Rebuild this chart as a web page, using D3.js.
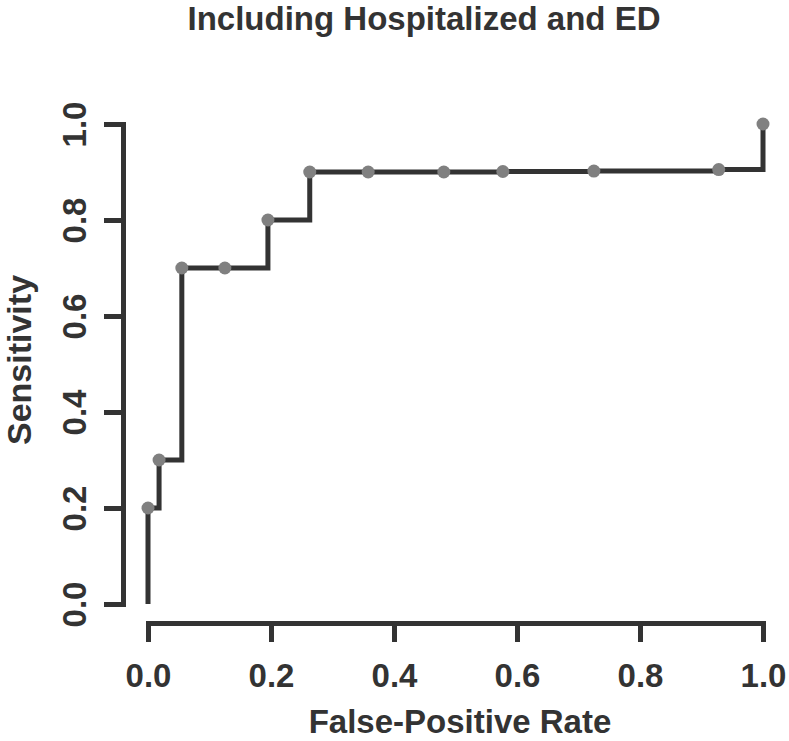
<!DOCTYPE html>
<html>
<head>
<meta charset="utf-8">
<script src="https://cdn.jsdelivr.net/npm/d3@7"></script>
<style>
  html, body { margin: 0; padding: 0; background: #fff; }
  text { font-family: "Liberation Sans", Arial, Helvetica, sans-serif; font-weight: bold; fill: #333; }
</style>
</head>
<body>
<svg id="chart" width="789" height="741"></svg>
<script>
const title = "Including Hospitalized and ED";
const xLabel = "False-Positive Rate";
const yLabel = "Sensitivity";
const fpr = [0.0, 0.018, 0.055, 0.125, 0.195, 0.263, 0.358, 0.481, 0.577, 0.725, 0.928, 1.0];
const sensitivity = [0.2, 0.3, 0.7, 0.7, 0.8, 0.9, 0.9, 0.9, 0.901, 0.902, 0.905, 1.0];
const xTicks = [0, 0.2, 0.4, 0.6, 0.8, 1.0];
const yTicks = [0, 0.2, 0.4, 0.6, 0.8, 1.0];

const svg = d3.select("#chart");
const x = d3.scaleLinear().domain([0, 1]).range([148, 763]);
const y = d3.scaleLinear().domain([0, 1]).range([604, 124]);
const dark = "#333333";

// Title
svg.append("text").attr("x", 424).attr("y", 30).attr("text-anchor", "middle")
  .style("font-size", "33px").text(title);

// X axis
const xAxis = svg.append("g").attr("transform", "translate(0,623)")
  .call(d3.axisBottom(x).tickValues(xTicks).tickSize(19).tickSizeOuter(0).tickFormat(d3.format(".1f")));
xAxis.select(".domain").attr("stroke", dark).attr("stroke-width", 5).attr("stroke-linecap", "square");
xAxis.selectAll(".tick line").attr("stroke", dark).attr("stroke-width", 5);
xAxis.selectAll(".tick text").attr("y", 64).attr("dy", null).attr("fill", dark)
  .style("font-size", "33px");

// Y axis
const yAxis = svg.append("g").attr("transform", "translate(123,0)")
  .call(d3.axisLeft(y).tickValues(yTicks).tickSize(19).tickSizeOuter(0).tickFormat(d3.format(".1f")));
yAxis.select(".domain").attr("stroke", dark).attr("stroke-width", 5).attr("stroke-linecap", "square");
yAxis.selectAll(".tick line").attr("stroke", dark).attr("stroke-width", 5);
yAxis.selectAll(".tick text").attr("x", null).attr("dy", null)
  .attr("transform", "translate(-37,0) rotate(-90)").attr("text-anchor", "middle").attr("fill", dark)
  .style("font-size", "33px");

// Axis titles
svg.append("text").attr("x", 460).attr("y", 733).attr("text-anchor", "middle")
  .style("font-size", "33px").text(xLabel);
svg.append("text").attr("transform", "translate(31,360) rotate(-90)").attr("text-anchor", "middle")
  .style("font-size", "34px").text(yLabel);

// ROC step curve
const pts = [[0, 0]].concat(fpr.map((f, i) => [f, sensitivity[i]]));
const line = d3.line().x(d => x(d[0])).y(d => y(d[1])).curve(d3.curveStepAfter);
svg.append("path").attr("d", line(pts)).attr("fill", "none").attr("stroke", dark)
  .attr("stroke-width", 5).attr("stroke-linejoin", "miter").attr("stroke-linecap", "butt");

// Points
svg.selectAll("circle.pt").data(fpr.map((f, i) => [f, sensitivity[i]])).enter()
  .append("circle").attr("class", "pt")
  .attr("cx", d => x(d[0])).attr("cy", d => y(d[1])).attr("r", 6.5)
  .attr("fill", "#808080");
</script>
</body>
</html>
